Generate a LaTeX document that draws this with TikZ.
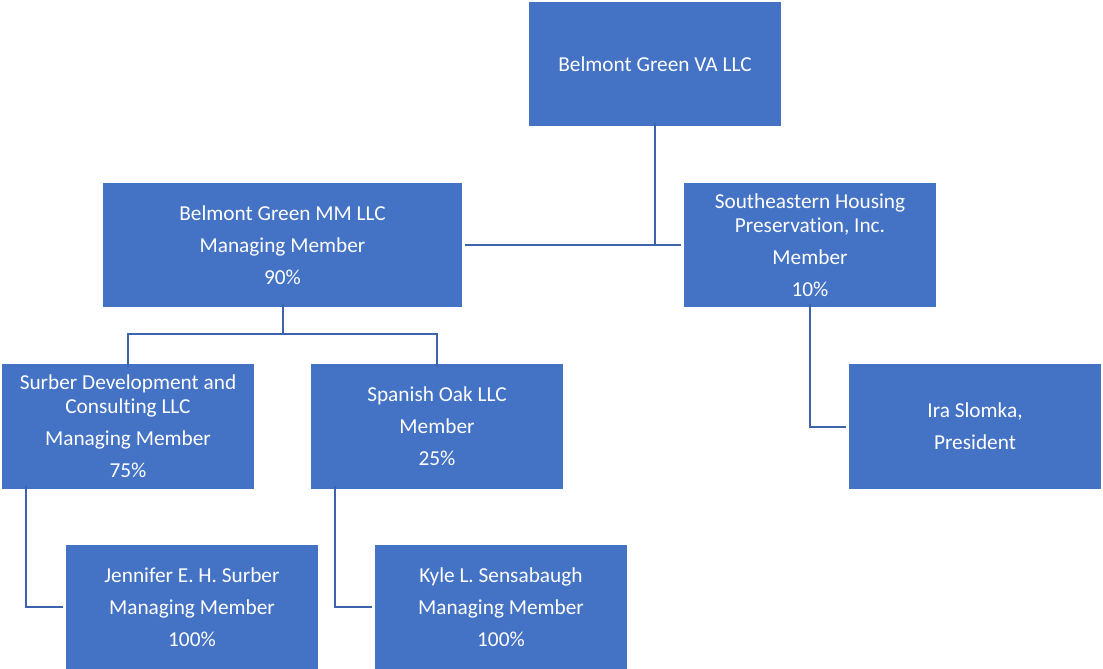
\documentclass[tikz,border=0pt]{standalone}
\usepackage{fontspec}
\setmainfont{Carlito}[Ligatures={NoCommon}]
\definecolor{boxblue}{HTML}{4472C4}
\definecolor{lineblue}{HTML}{3B64AD}
\tikzset{
  orgbox/.style={fill=boxblue, draw=none, text=white, inner sep=0pt, align=center,
    minimum width=252pt, minimum height=124pt, font=\fontsize{21.3}{24}\selectfont},
  conn/.style={draw=lineblue, line width=2pt}
}
\begin{document}
\begin{tikzpicture}[x=1pt,y=-1pt]
\useasboundingbox[fill=white] (0,0) rectangle (1103,669);
\node[orgbox] (top) at (655,64) {Belmont Green VA LLC};
\node[orgbox, minimum width=359pt] (mm) at (282.5,245) {Belmont Green MM LLC\\[8pt]Managing Member\\[8pt]90\%};
\node[orgbox] (shp) at (810,245) {Southeastern Housing\\Preservation, Inc.\\[8pt]Member\\[8pt]10\%};
\node[orgbox, minimum height=125pt] (surber) at (128,426.5) {Surber Development and\\Consulting LLC\\[8pt]Managing Member\\[8pt]75\%};
\node[orgbox, minimum height=125pt] (spanish) at (437,426.5) {Spanish Oak LLC\\[8pt]Member\\[8pt]25\%};
\node[orgbox, minimum height=125pt] (ira) at (975,426.5) {Ira Slomka,\\[8pt]President};
\node[orgbox] (jen) at (192,607) {Jennifer E. H. Surber\\[8pt]Managing Member\\[8pt]100\%};
\node[orgbox] (kyle) at (501,607) {Kyle L. Sensabaugh\\[8pt]Managing Member\\[8pt]100\%};
\coordinate (bus) at (282.5,334);
\draw[conn] ([yshift=3pt]top.south) -- (top.south |- mm.east);
\draw[conn] ([xshift=3pt]mm.east) -- ([xshift=-3pt]shp.west);
\draw[conn] ([yshift=3pt]mm.south) -- (bus);
\draw[conn] ([yshift=-3pt]surber.north) |- (bus) -| ([yshift=-3pt]spanish.north);
\draw[conn] ([xshift=24pt,yshift=3pt]surber.south west) |- ([xshift=-3pt]jen.west);
\draw[conn] ([xshift=24pt,yshift=3pt]spanish.south west) |- ([xshift=-3pt]kyle.west);
\draw[conn] ([yshift=3pt]shp.south) |- ([xshift=-3pt]ira.west);
\end{tikzpicture}
\end{document}
